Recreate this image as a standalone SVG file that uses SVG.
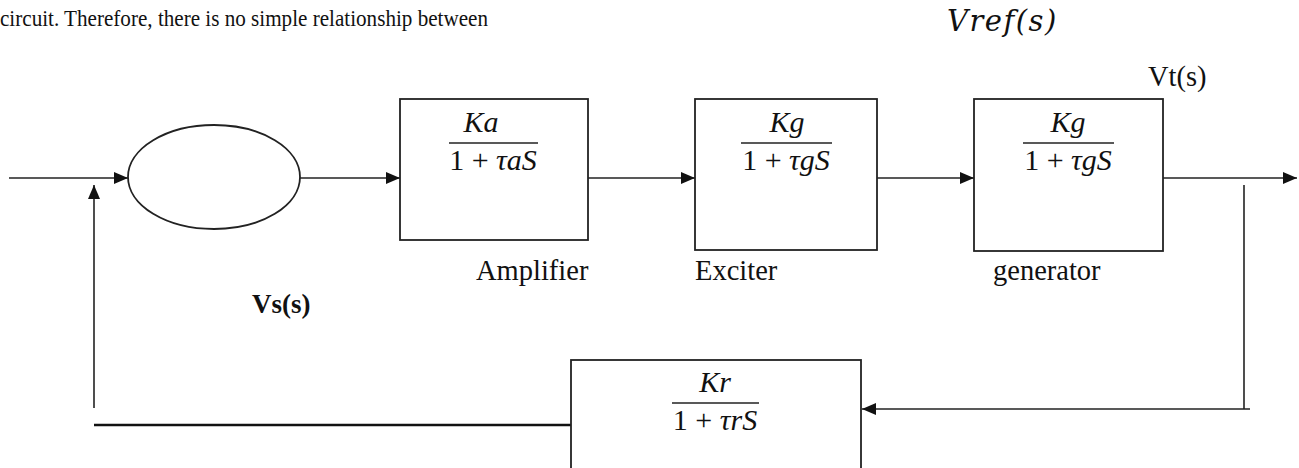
<svg xmlns="http://www.w3.org/2000/svg" width="1299" height="468" viewBox="0 0 1299 468">
<style>
.box{fill:#fff;stroke:#222;stroke-width:1.8}
.ln{fill:none;stroke:#222;stroke-width:1.6}
.thick{fill:none;stroke:#111;stroke-width:2.6}
.bar{stroke:#222;stroke-width:1.6}
.lbl{font-family:"Liberation Serif","Times New Roman",serif;font-size:28.5px;fill:#111}
.math{font-family:"Liberation Serif","Times New Roman",serif;font-size:30px;fill:#111;text-anchor:middle}
.it{font-style:italic}
</style>
<defs>
<marker id="arr" viewBox="0 0 14 12" refX="14" refY="6" markerWidth="14" markerHeight="12" markerUnits="userSpaceOnUse" orient="auto">
<path d="M0,0 L14,6 L0,12 Z" fill="#111"/>
</marker>
</defs>
<rect width="1299" height="468" fill="#fff"/>
<text class="lbl" x="0" y="26" style="font-size:24px" textLength="488" lengthAdjust="spacingAndGlyphs">circuit. Therefore, there is no simple relationship between</text>
<text x="947" y="31" style="font-family:'DejaVu Serif',serif;font-style:italic;font-size:29px;letter-spacing:1.5px;fill:#111">Vref(s)</text>
<text class="lbl" x="1148" y="86">Vt(s)</text>
<text class="lbl" x="252" y="313" style="font-weight:bold;font-size:27px">Vs(s)</text>

<g id="connectors">
<line class="ln" x1="9" y1="178" x2="128" y2="178" marker-end="url(#arr)"/>
<line class="ln" x1="300" y1="178" x2="400" y2="178" marker-end="url(#arr)"/>
<line class="ln" x1="588" y1="178" x2="695" y2="178" marker-end="url(#arr)"/>
<line class="ln" x1="877" y1="178" x2="974" y2="178" marker-end="url(#arr)"/>
<line class="ln" x1="1140" y1="178" x2="1297" y2="178" marker-end="url(#arr)"/>
<line class="ln" x1="1244" y1="185" x2="1244" y2="409"/>
<line class="ln" x1="1250" y1="409" x2="862" y2="409" marker-end="url(#arr)"/>
<line class="thick" x1="94" y1="425" x2="571" y2="425"/>
<line class="ln" x1="94" y1="408" x2="94" y2="185" marker-end="url(#arr)"/>
</g>

<g id="summer">
<ellipse cx="214" cy="177" rx="86" ry="52" fill="#fff" stroke="#222" stroke-width="1.8"/>
</g>

<g id="amplifier">
<rect class="box" x="400" y="99" width="188" height="141"/>
<text class="math it" x="481" y="132">Ka</text>
<line class="bar" x1="449" y1="143" x2="538" y2="143"/>
<text class="math" x="493" y="170">1 + <tspan class="it">τaS</tspan></text>
<text class="lbl" x="476" y="280">Amplifier</text>
</g>

<g id="exciter">
<rect class="box" x="695" y="99" width="182" height="151"/>
<text class="math it" x="787" y="132">Kg</text>
<line class="bar" x1="741" y1="143" x2="832" y2="143"/>
<text class="math" x="786" y="170">1 + <tspan class="it">τgS</tspan></text>
<text class="lbl" x="695" y="280">Exciter</text>
</g>

<g id="generator">
<rect class="box" x="974" y="99" width="189" height="152"/>
<text class="math it" x="1068" y="132">Kg</text>
<line class="bar" x1="1023" y1="143" x2="1114" y2="143"/>
<text class="math" x="1068" y="170">1 + <tspan class="it">τgS</tspan></text>
<text class="lbl" x="993" y="280">generator</text>
</g>

<g id="feedback">
<rect class="box" x="571" y="360" width="290" height="130"/>
<text class="math it" x="715" y="392">Kr</text>
<line class="bar" x1="672" y1="403" x2="759" y2="403"/>
<text class="math" x="715" y="430">1 + <tspan class="it">τrS</tspan></text>
</g>
</svg>
